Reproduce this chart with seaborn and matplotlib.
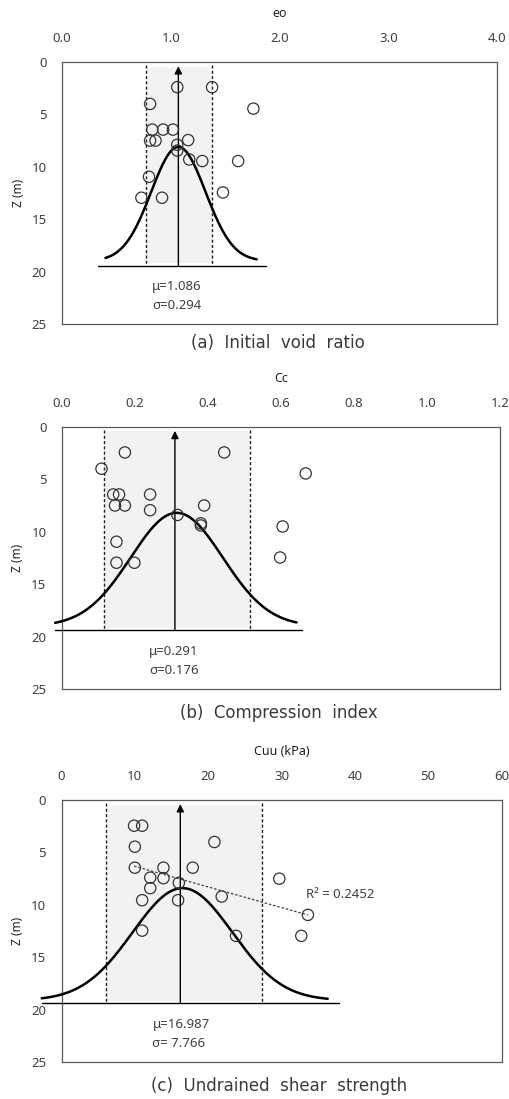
import numpy as np
import pandas as pd
import matplotlib
matplotlib.use("Agg")
import matplotlib.pyplot as plt
import seaborn as sns

# ---------------- data ----------------
# (a) initial void ratio
eo_x = [1.06, 1.38, 0.81, 1.76, 0.83, 0.93, 1.02, 0.81, 0.86, 1.16, 1.06, 1.06,
        1.17, 1.29, 1.62, 0.80, 1.48, 0.73, 0.92]
eo_z = [2.4, 2.4, 4.0, 4.45, 6.45, 6.45, 6.45, 7.5, 7.5, 7.45, 7.9, 8.45,
        9.3, 9.45, 9.45, 10.95, 12.45, 12.95, 12.95]
# (b) compression index
cc_x = [0.173, 0.445, 0.109, 0.668, 0.141, 0.157, 0.242, 0.146, 0.173, 0.390,
        0.242, 0.317, 0.381, 0.381, 0.605, 0.150, 0.150, 0.199, 0.598]
cc_z = [2.45, 2.45, 4.0, 4.45, 6.45, 6.45, 6.45, 7.5, 7.5, 7.5,
        7.95, 8.4, 9.2, 9.4, 9.5, 10.95, 12.95, 12.95, 12.45]
# (c) undrained shear strength
cu_x = [9.9, 11.0, 20.85, 10.0, 10.0, 13.9, 17.9, 12.1, 13.9, 16.0, 29.7, 12.1,
        11.0, 15.9, 21.85, 33.6, 11.0, 23.8, 32.7]
cu_z = [2.45, 2.45, 4.0, 4.45, 6.45, 6.45, 6.45, 7.4, 7.45, 7.9, 7.5, 8.4,
        9.55, 9.55, 9.2, 10.95, 12.45, 12.95, 12.95]
trend_x = [9.9, 33.6]
trend_z = [6.3, 10.96]

mu_vals = [1.086, 0.291, 16.987]
sigma_vals = [0.294, 0.176, 7.766]
sigma_txt = ["0.294", "0.176", " 7.766"]
# drawn schematic normal curves (centre, spread, peak depth, base depth, x-range)
curve_center = [1.07, 0.315, 16.5]
curve_spread = [0.25, 0.126, 6.8]
curve_peak = [8.1, 8.2, 8.4]
curve_base = [19.0, 19.0, 19.1]
curve_lo = [0.40, -0.018, -2.7]
curve_hi = [1.79, 0.643, 36.3]
baseline_z = [19.5, 19.37, 19.32]
baseline_lo = [0.33, -0.018, -2.7]
baseline_hi = [1.88, 0.657, 37.8]
band_lo = [0.775, 0.116, 6.07]
band_hi = [1.382, 0.515, 27.3]
arrow_x = [1.07, 0.31, 16.2]
text_x = [0.83, 0.24, 12.4]

xlims = [(0, 4.0), (0, 1.2), (0, 60)]
xticks = [[0, 1, 2, 3, 4], [0, 0.2, 0.4, 0.6, 0.8, 1.0, 1.2], [0, 10, 20, 30, 40, 50, 60]]
xtick_labels = [["0.0", "1.0", "2.0", "3.0", "4.0"],
                ["0.0", "0.2", "0.4", "0.6", "0.8", "1.0", "1.2"],
                ["0", "10", "20", "30", "40", "50", "60"]]
yticks = [0, 5, 10, 15, 20, 25]
xlabels = ["eo", "Cc", "Cuu (kPa)"]
titles = ["(a)  Initial  void  ratio", "(b)  Compression  index", "(c)  Undrained  shear  strength"]

# ---------------- figure ----------------
sns.set_theme(style="white")
plt.rcParams['font.family'] = ['Noto Sans', 'DejaVu Sans']

W, H = 509, 1099
fig = plt.figure(figsize=(W / 100, H / 100), dpi=100)

# axes boxes in pixels: left, right, top, bottom
boxes = [(62, 497, 62, 324), (61.7, 500, 426.7, 689.3), (61.5, 501.5, 800, 1062.3)]
title_y = [343, 713, 1086]

spine_c = "#595959"
text_c = "#404040"

datasets = [(eo_x, eo_z), (cc_x, cc_z), (cu_x, cu_z)]

for i, (l, r, t, b) in enumerate(boxes):
    ax = fig.add_axes([l / W, 1 - b / H, (r - l) / W, (b - t) / H])
    ax.set_xlim(*xlims[i])
    ax.set_ylim(25, 0)
    # shaded +-sigma band
    ax.fill_between([band_lo[i], band_hi[i]], [0.45, 0.45], [19.2, 19.2],
                    color="#f2f2f2", lw=0, zorder=0)
    for bx in (band_lo[i], band_hi[i]):
        ax.plot([bx, bx], [0.3, 19.3], color="#222222", lw=1.0,
                ls=(0, (2.2, 1.6)), zorder=1)
    # normal curve
    xs = np.linspace(curve_lo[i], curve_hi[i], 300)
    zs = curve_base[i] - (curve_base[i] - curve_peak[i]) * np.exp(
        -(xs - curve_center[i]) ** 2 / (2 * curve_spread[i] ** 2))
    cdf = pd.DataFrame({"x": xs, "z": zs})
    sns.lineplot(data=cdf, x="x", y="z", ax=ax, color="black", lw=1.8,
                 sort=False, estimator=None, zorder=3, clip_on=False)
    # baseline
    ax.plot([baseline_lo[i], baseline_hi[i]], [baseline_z[i]] * 2,
            color="black", lw=1.0, zorder=3, clip_on=False)
    # arrow (mean line)
    ax.annotate("", xy=(arrow_x[i], 0.4), xytext=(arrow_x[i], baseline_z[i]),
                arrowprops=dict(arrowstyle="-|>", color="black", lw=1.0,
                                mutation_scale=11, shrinkA=0, shrinkB=0),
                zorder=4)
    # trend line in (c)
    if i == 2:
        ax.plot(trend_x, trend_z, color="#404040", lw=0.9,
                ls=(0, (2, 1.5)), zorder=2)
        ax.text(33.4, 9.0, "R² = 0.2452", fontsize=9.5, color=text_c,
                ha="left", va="center")
    # data points
    dx, dz = datasets[i]
    df = pd.DataFrame({"x": dx, "z": dz})
    sns.scatterplot(data=df, x="x", y="z", ax=ax, marker="o", s=66,
                    facecolor="none", edgecolor="#333333", linewidth=0.9,
                    zorder=5, legend=False)
    # mu / sigma text
    ax.text(text_x[i], 21.4, f"μ={mu_vals[i]}", fontsize=9.5, color=text_c,
            ha="left", va="center")
    ax.text(text_x[i], 23.25, f"σ={sigma_txt[i]}", fontsize=9.5, color=text_c,
            ha="left", va="center")

    # axes styling
    ax.xaxis.set_ticks_position("top")
    ax.xaxis.set_label_position("top")
    ax.set_xticks(xticks[i])
    ax.set_xticklabels(xtick_labels[i], fontsize=9.5, color=text_c)
    ax.set_yticks(yticks)
    ax.set_yticklabels([str(v) for v in yticks], fontsize=9.5, color=text_c)
    ax.tick_params(axis="x", length=0, pad=12)
    ax.tick_params(axis="y", length=4, width=0.8, color=spine_c, pad=7, direction="out")
    ax.set_xlabel(xlabels[i], fontsize=9, fontweight="bold", color="#222222", labelpad=11)
    ax.set_ylabel("Z (m)", fontsize=8.5, fontweight="bold", color="#222222", labelpad=5)
    for s in ax.spines.values():
        s.set_color(spine_c)
        s.set_linewidth(0.9)
        s.set_visible(True)
    ax.grid(False)

    fig.text(((boxes[i][0] + boxes[i][1]) / 2 - 2) / W, 1 - title_y[i] / H, titles[i],
             fontsize=12, color="#3a3a3a", ha="center", va="center",
             family=['DejaVu Sans'])

fig.savefig("out.png", dpi=100, facecolor="white")
